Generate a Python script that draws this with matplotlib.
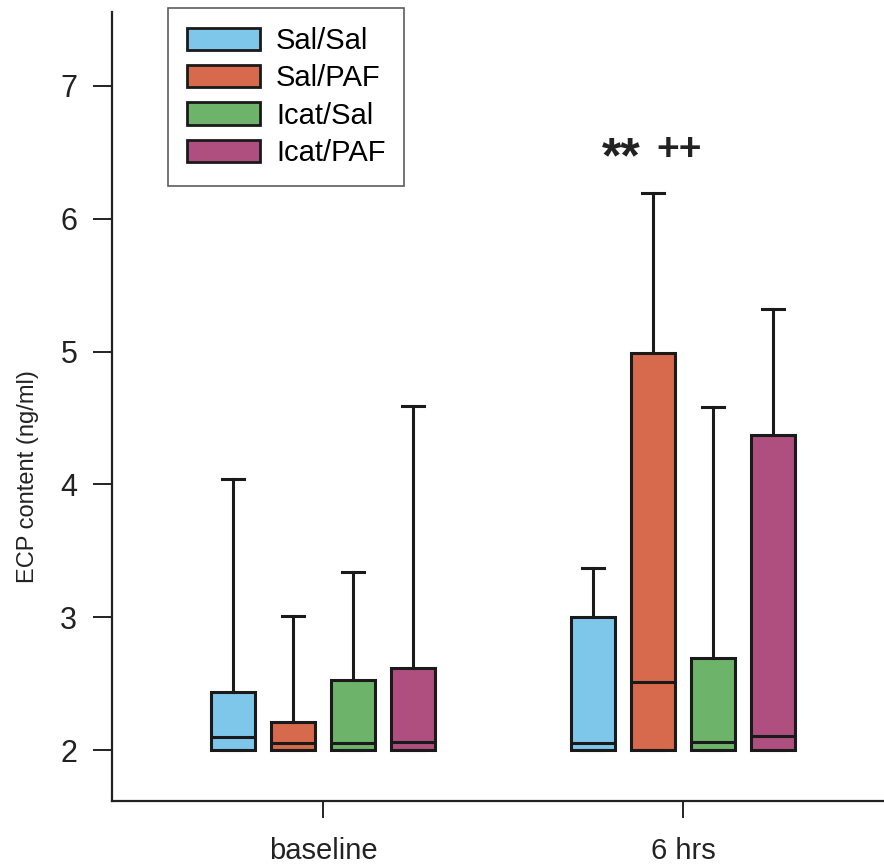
import matplotlib
matplotlib.use("Agg")
import matplotlib.pyplot as plt
from matplotlib.patches import Patch

plt.rcParams['font.family'] = ['Liberation Sans', 'DejaVu Sans']

timepoints = ["baseline", "6 hrs"]
groups = ["Sal/Sal", "Sal/PAF", "Icat/Sal", "Icat/PAF"]
colors = ["#7ec6ea", "#d76a4c", "#6eb36a", "#ae4f80"]

# per-group box statistics (rows: timepoints, cols: groups)
q1 = [[2.0, 2.0, 2.0, 2.0],
      [2.0, 2.0, 2.0, 2.0]]
medians = [[2.10, 2.05, 2.05, 2.06],
           [2.05, 2.51, 2.06, 2.11]]
q3 = [[2.44, 2.21, 2.53, 2.62],
      [3.00, 4.99, 2.69, 4.37]]
whisker_hi = [[4.04, 3.01, 3.34, 4.59],
              [3.37, 6.19, 4.58, 5.32]]

fig = plt.figure(figsize=(8.84, 8.65), dpi=100)
ax = fig.add_axes([112 / 884, 64 / 865, 1 - 112 / 884, (801 - 12) / 865])

offsets = [-0.25, -0.0833, 0.0833, 0.25]
width = 0.12
for t in range(len(timepoints)):
    for g in range(len(groups)):
        stats = [dict(med=medians[t][g], q1=q1[t][g], q3=q3[t][g],
                      whislo=q1[t][g], whishi=whisker_hi[t][g], fliers=[])]
        ax.bxp(stats, positions=[t + offsets[g]], widths=width,
               patch_artist=True, showfliers=False, manage_ticks=False,
               boxprops=dict(facecolor=colors[g], edgecolor="#1a1a1a", linewidth=2.2),
               medianprops=dict(color="#1a1a1a", linewidth=2.2),
               whiskerprops=dict(color="#1a1a1a", linewidth=2.2),
               capprops=dict(color="#1a1a1a", linewidth=2.2),
               capwidths=0.06)

ax.set_xlim(-0.586, 1.558)
ax.set_ylim(1.617, 7.556)
ax.set_xticks(range(len(timepoints)))
ax.set_xticklabels(timepoints, fontsize=21, color="#222222")
ax.set_yticks([2, 3, 4, 5, 6, 7])
ax.set_yticklabels(["2", "3", "4", "5", "6", "7"], fontsize=22, color="#222222")
ax.tick_params(axis="y", length=14, width=1.4, pad=11, color="#222222")
ax.tick_params(axis="x", length=12, width=1.4, pad=14, color="#222222")
for side in ("top", "right"):
    ax.spines[side].set_visible(False)
for side in ("left", "bottom"):
    ax.spines[side].set_linewidth(1.6)
    ax.spines[side].set_color("#222222")

fig.text(28 / 884, 1 - 477 / 865, "ECP content (ng/ml)", rotation=90,
         ha="center", va="center", fontsize=17, color="#222222")

# significance markers above the 6 hrs Sal/PAF group
ax.text(0.828, 6.45, "**", ha="center", va="center",
        fontsize=36, fontweight="bold", color="#222222")
ax.text(0.989, 6.52, "++", ha="center", va="center",
        fontsize=28, fontweight="bold", color="#222222")

handles = [Patch(facecolor=c, edgecolor="#1a1a1a", linewidth=2) for c in colors]
leg = fig.legend(handles, groups, loc="upper left",
                 bbox_to_anchor=(168 / 884, 1 - 8 / 865), borderaxespad=0,
                 fontsize=21, handlelength=2.5, handleheight=0.8,
                 labelspacing=0.32, handletextpad=0.55, borderpad=0.65,
                 fancybox=False, frameon=True)
leg.get_frame().set_edgecolor("#333333")
leg.get_frame().set_linewidth(1.2)

fig.savefig("out.png", dpi=100, facecolor="white")
